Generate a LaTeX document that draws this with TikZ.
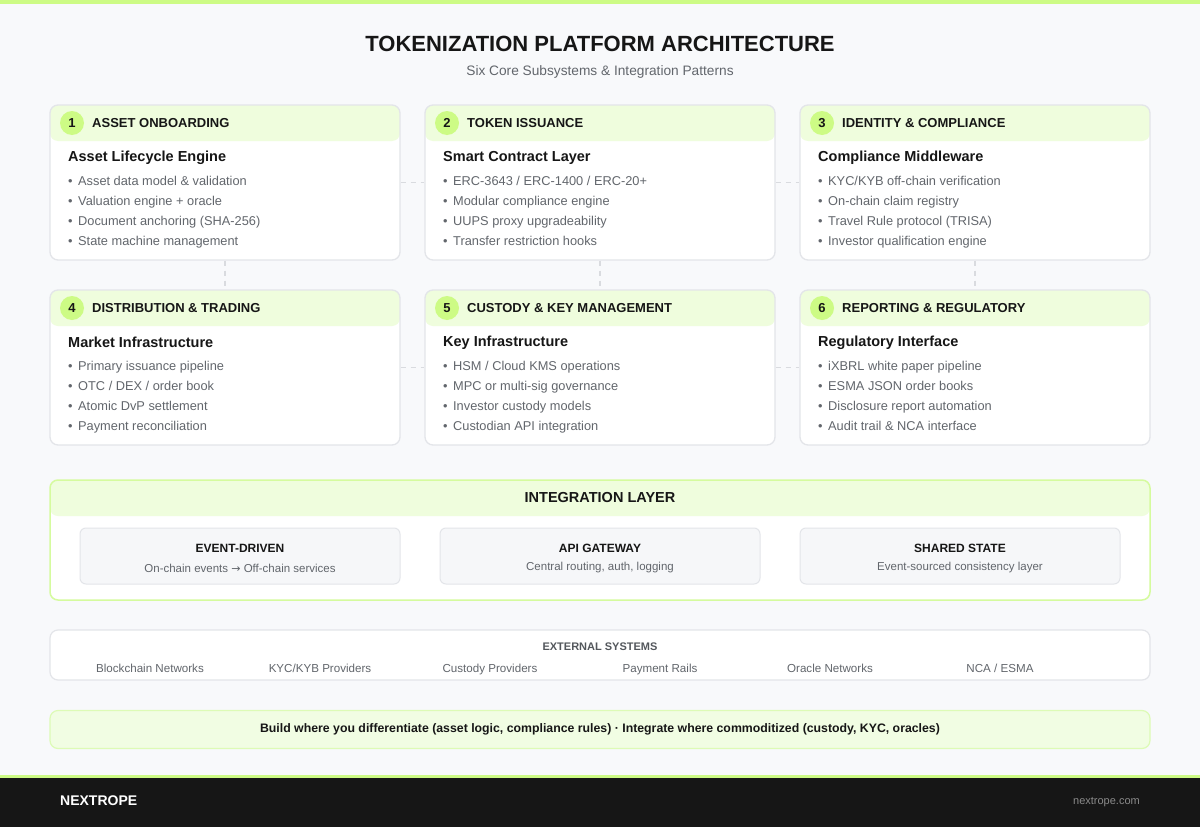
\documentclass[tikz,border=0pt]{standalone}
\usepackage{fontspec}
\setmainfont{Liberation Sans}
\newfontfamily\arrowfont{DejaVu Sans}
\usetikzlibrary{positioning}

\definecolor{bgcol}{HTML}{F8F9FB}
\definecolor{lime}{HTML}{CDFB85}
\definecolor{hdrgreen}{HTML}{EFFDDD}
\definecolor{cardline}{HTML}{E3E5E9}
\definecolor{ink}{HTML}{161616}
\definecolor{txtgray}{HTML}{62666C}
\definecolor{dashgray}{HTML}{D9DBDF}
\definecolor{intline}{HTML}{D5FB9E}
\definecolor{boxgray}{HTML}{F6F7F9}
\definecolor{bannerfill}{HTML}{F1FDE3}
\definecolor{bannerline}{HTML}{DDFBB6}
\definecolor{footbg}{HTML}{161616}
\definecolor{footgray}{HTML}{8A8A8A}

\begin{document}
\begin{tikzpicture}[
    x=1pt, y=-1pt,
    card/.style={rectangle,rounded corners=8pt,draw=cardline,line width=1.3pt,fill=white,
        minimum width=350pt,minimum height=155pt,inner sep=0pt,
        path picture={\fill[hdrgreen] ([yshift=-36pt]path picture bounding box.north west) rectangle (path picture bounding box.north east);}},
    num/.style={circle,fill=lime,minimum size=24pt,inner sep=0pt,text=ink,font=\fontsize{13}{15}\selectfont\bfseries},
    hdr/.style={anchor=west,inner sep=0pt,text=ink,font=\fontsize{13}{15}\selectfont\bfseries},
    ttl/.style={anchor=west,inner sep=0pt,text=ink,font=\fontsize{14.5}{17}\selectfont\bfseries},
    blist/.style={anchor=north west,inner sep=0pt,align=left,text=txtgray,font=\fontsize{12.8}{20}\selectfont},
    pattern/.style={rectangle,rounded corners=6pt,draw=cardline,line width=1pt,fill=boxgray,
        minimum width=320pt,minimum height=56pt},
    pattl/.style={inner sep=0pt,text=ink,font=\fontsize{12}{14}\selectfont\bfseries},
    patsub/.style={inner sep=0pt,text=txtgray,font=\fontsize{11.5}{14}\selectfont},
    extitem/.style={anchor=base,text=txtgray,inner sep=0pt,font=\fontsize{11.6}{13}\selectfont},
    dashline/.style={draw=dashgray,line width=1.3pt,dash pattern=on 5pt off 5pt}
]

% page and top strip
\useasboundingbox[fill=bgcol] (0,0) rectangle (1200,827);
\fill[lime] (0,0) rectangle (1200,4);

\node[text=ink,font=\fontsize{22}{26}\selectfont\bfseries] (title) at (600,44) {TOKENIZATION PLATFORM ARCHITECTURE};
\node[text=txtgray,font=\fontsize{13.7}{16}\selectfont] (subtitle) at (600,72) {Six Core Subsystems \& Integration Patterns};

% first row of subsystems
\node[card] (c1) at (225,182.5) {};
\node[num] (n1) at (72,123) {1};
\node[hdr] (h1) at (92,123.5) {ASSET ONBOARDING};
\node[ttl] (t1) at (68,157.5) {Asset Lifecycle Engine};
\node[blist] (b1) at (68,176.5) {•\hspace{5.5pt}Asset data model \& validation\\•\hspace{5.5pt}Valuation engine + oracle\\•\hspace{5.5pt}Document anchoring (SHA-256)\\•\hspace{5.5pt}State machine management};

\node[card] (c2) at (600,182.5) {};
\node[num] (n2) at (447,123) {2};
\node[hdr] (h2) at (467,123.5) {TOKEN ISSUANCE};
\node[ttl] (t2) at (443,157.5) {Smart Contract Layer};
\node[blist] (b2) at (443,176.5) {•\hspace{5.5pt}ERC-3643 / ERC-1400 / ERC-20+\\•\hspace{5.5pt}Modular compliance engine\\•\hspace{5.5pt}UUPS proxy upgradeability\\•\hspace{5.5pt}Transfer restriction hooks};

\node[card] (c3) at (975,182.5) {};
\node[num] (n3) at (822,123) {3};
\node[hdr] (h3) at (842,123.5) {IDENTITY \& COMPLIANCE};
\node[ttl] (t3) at (818,157.5) {Compliance Middleware};
\node[blist] (b3) at (818,176.5) {•\hspace{5.5pt}KYC/KYB off-chain verification\\•\hspace{5.5pt}On-chain claim registry\\•\hspace{5.5pt}Travel Rule protocol (TRISA)\\•\hspace{5.5pt}Investor qualification engine};

% second row of subsystems
\node[card] (c4) at (225,367.5) {};
\node[num] (n4) at (72,308) {4};
\node[hdr] (h4) at (92,308.5) {DISTRIBUTION \& TRADING};
\node[ttl] (t4) at (68,342.5) {Market Infrastructure};
\node[blist] (b4) at (68,361.5) {•\hspace{5.5pt}Primary issuance pipeline\\•\hspace{5.5pt}OTC / DEX / order book\\•\hspace{5.5pt}Atomic DvP settlement\\•\hspace{5.5pt}Payment reconciliation};

\node[card] (c5) at (600,367.5) {};
\node[num] (n5) at (447,308) {5};
\node[hdr] (h5) at (467,308.5) {CUSTODY \& KEY MANAGEMENT};
\node[ttl] (t5) at (443,342.5) {Key Infrastructure};
\node[blist] (b5) at (443,361.5) {•\hspace{5.5pt}HSM / Cloud KMS operations\\•\hspace{5.5pt}MPC or multi-sig governance\\•\hspace{5.5pt}Investor custody models\\•\hspace{5.5pt}Custodian API integration};

\node[card] (c6) at (975,367.5) {};
\node[num] (n6) at (822,308) {6};
\node[hdr] (h6) at (842,308.5) {REPORTING \& REGULATORY};
\node[ttl] (t6) at (818,342.5) {Regulatory Interface};
\node[blist] (b6) at (818,361.5) {•\hspace{5.5pt}iXBRL white paper pipeline\\•\hspace{5.5pt}ESMA JSON order books\\•\hspace{5.5pt}Disclosure report automation\\•\hspace{5.5pt}Audit trail \& NCA interface};

% dashed links between subsystems
\draw[dashline] (c1) -- (c2);
\draw[dashline] (c2) -- (c3);
\draw[dashline] (c4) -- (c5);
\draw[dashline] (c5) -- (c6);
\draw[dashline] (c1) -- (c4);
\draw[dashline] (c2) -- (c5);
\draw[dashline] (c3) -- (c6);

% integration layer
\node[card,draw=intline,line width=1.5pt,minimum width=1100pt,minimum height=120pt] (intlayer) at (600,540) {};
\node[text=ink,font=\fontsize{14.5}{17}\selectfont\bfseries] (inttitle) at (600,497.5) {INTEGRATION LAYER};
\node[pattern] (event) at (240,556) {};
\node[pattl] (eventt) at (240,548.5) {EVENT-DRIVEN};
\node[patsub] (events) at (240,568) {On-chain events {\arrowfont\fontsize{11}{14}\selectfont →} Off-chain services};
\node[pattern] (api) at (600,556) {};
\node[pattl] (apit) at (600,548.5) {API GATEWAY};
\node[patsub] (apis) at (600,568) {Central routing, auth, logging};
\node[pattern] (shared) at (960,556) {};
\node[pattl] (sharedt) at (960,548.5) {SHARED STATE};
\node[patsub] (shareds) at (960,568) {Event-sourced consistency layer};

% external systems
\node[rectangle,rounded corners=8pt,draw=cardline,line width=1.2pt,fill=white,minimum width=1100pt,minimum height=50pt] (external) at (600,655) {};
\node[text=txtgray!85!black,inner sep=0pt,font=\fontsize{11}{13}\selectfont\bfseries] (exttitle) at (600,647) {EXTERNAL SYSTEMS};
\node[extitem] (e1) at (150,672) {Blockchain Networks};
\node[extitem] (e2) at (320,672) {KYC/KYB Providers};
\node[extitem] (e3) at (490,672) {Custody Providers};
\node[extitem] (e4) at (660,672) {Payment Rails};
\node[extitem] (e5) at (830,672) {Oracle Networks};
\node[extitem] (e6) at (1000,672) {NCA / ESMA};

% build vs integrate banner
\node[rectangle,rounded corners=8pt,draw=bannerline,line width=1.2pt,fill=bannerfill,minimum width=1100pt,minimum height=38pt,
    text=ink,font=\fontsize{12.3}{14}\selectfont\bfseries] (banner) at (600,729.5) {Build where you differentiate (asset logic, compliance rules) · Integrate where commoditized (custody, KYC, oracles)};

% footer
\fill[lime] (0,775) rectangle (1200,778);
\fill[footbg] (0,778) rectangle (1200,827);
\node[anchor=west,inner sep=0pt,text=white,font=\fontsize{14}{16}\selectfont\bfseries] (brand) at (60,801) {NEXTROPE};
\node[anchor=east,inner sep=0pt,text=footgray,font=\fontsize{11}{13}\selectfont] (site) at (1140,802) {nextrope.com};

\end{tikzpicture}
\end{document}
